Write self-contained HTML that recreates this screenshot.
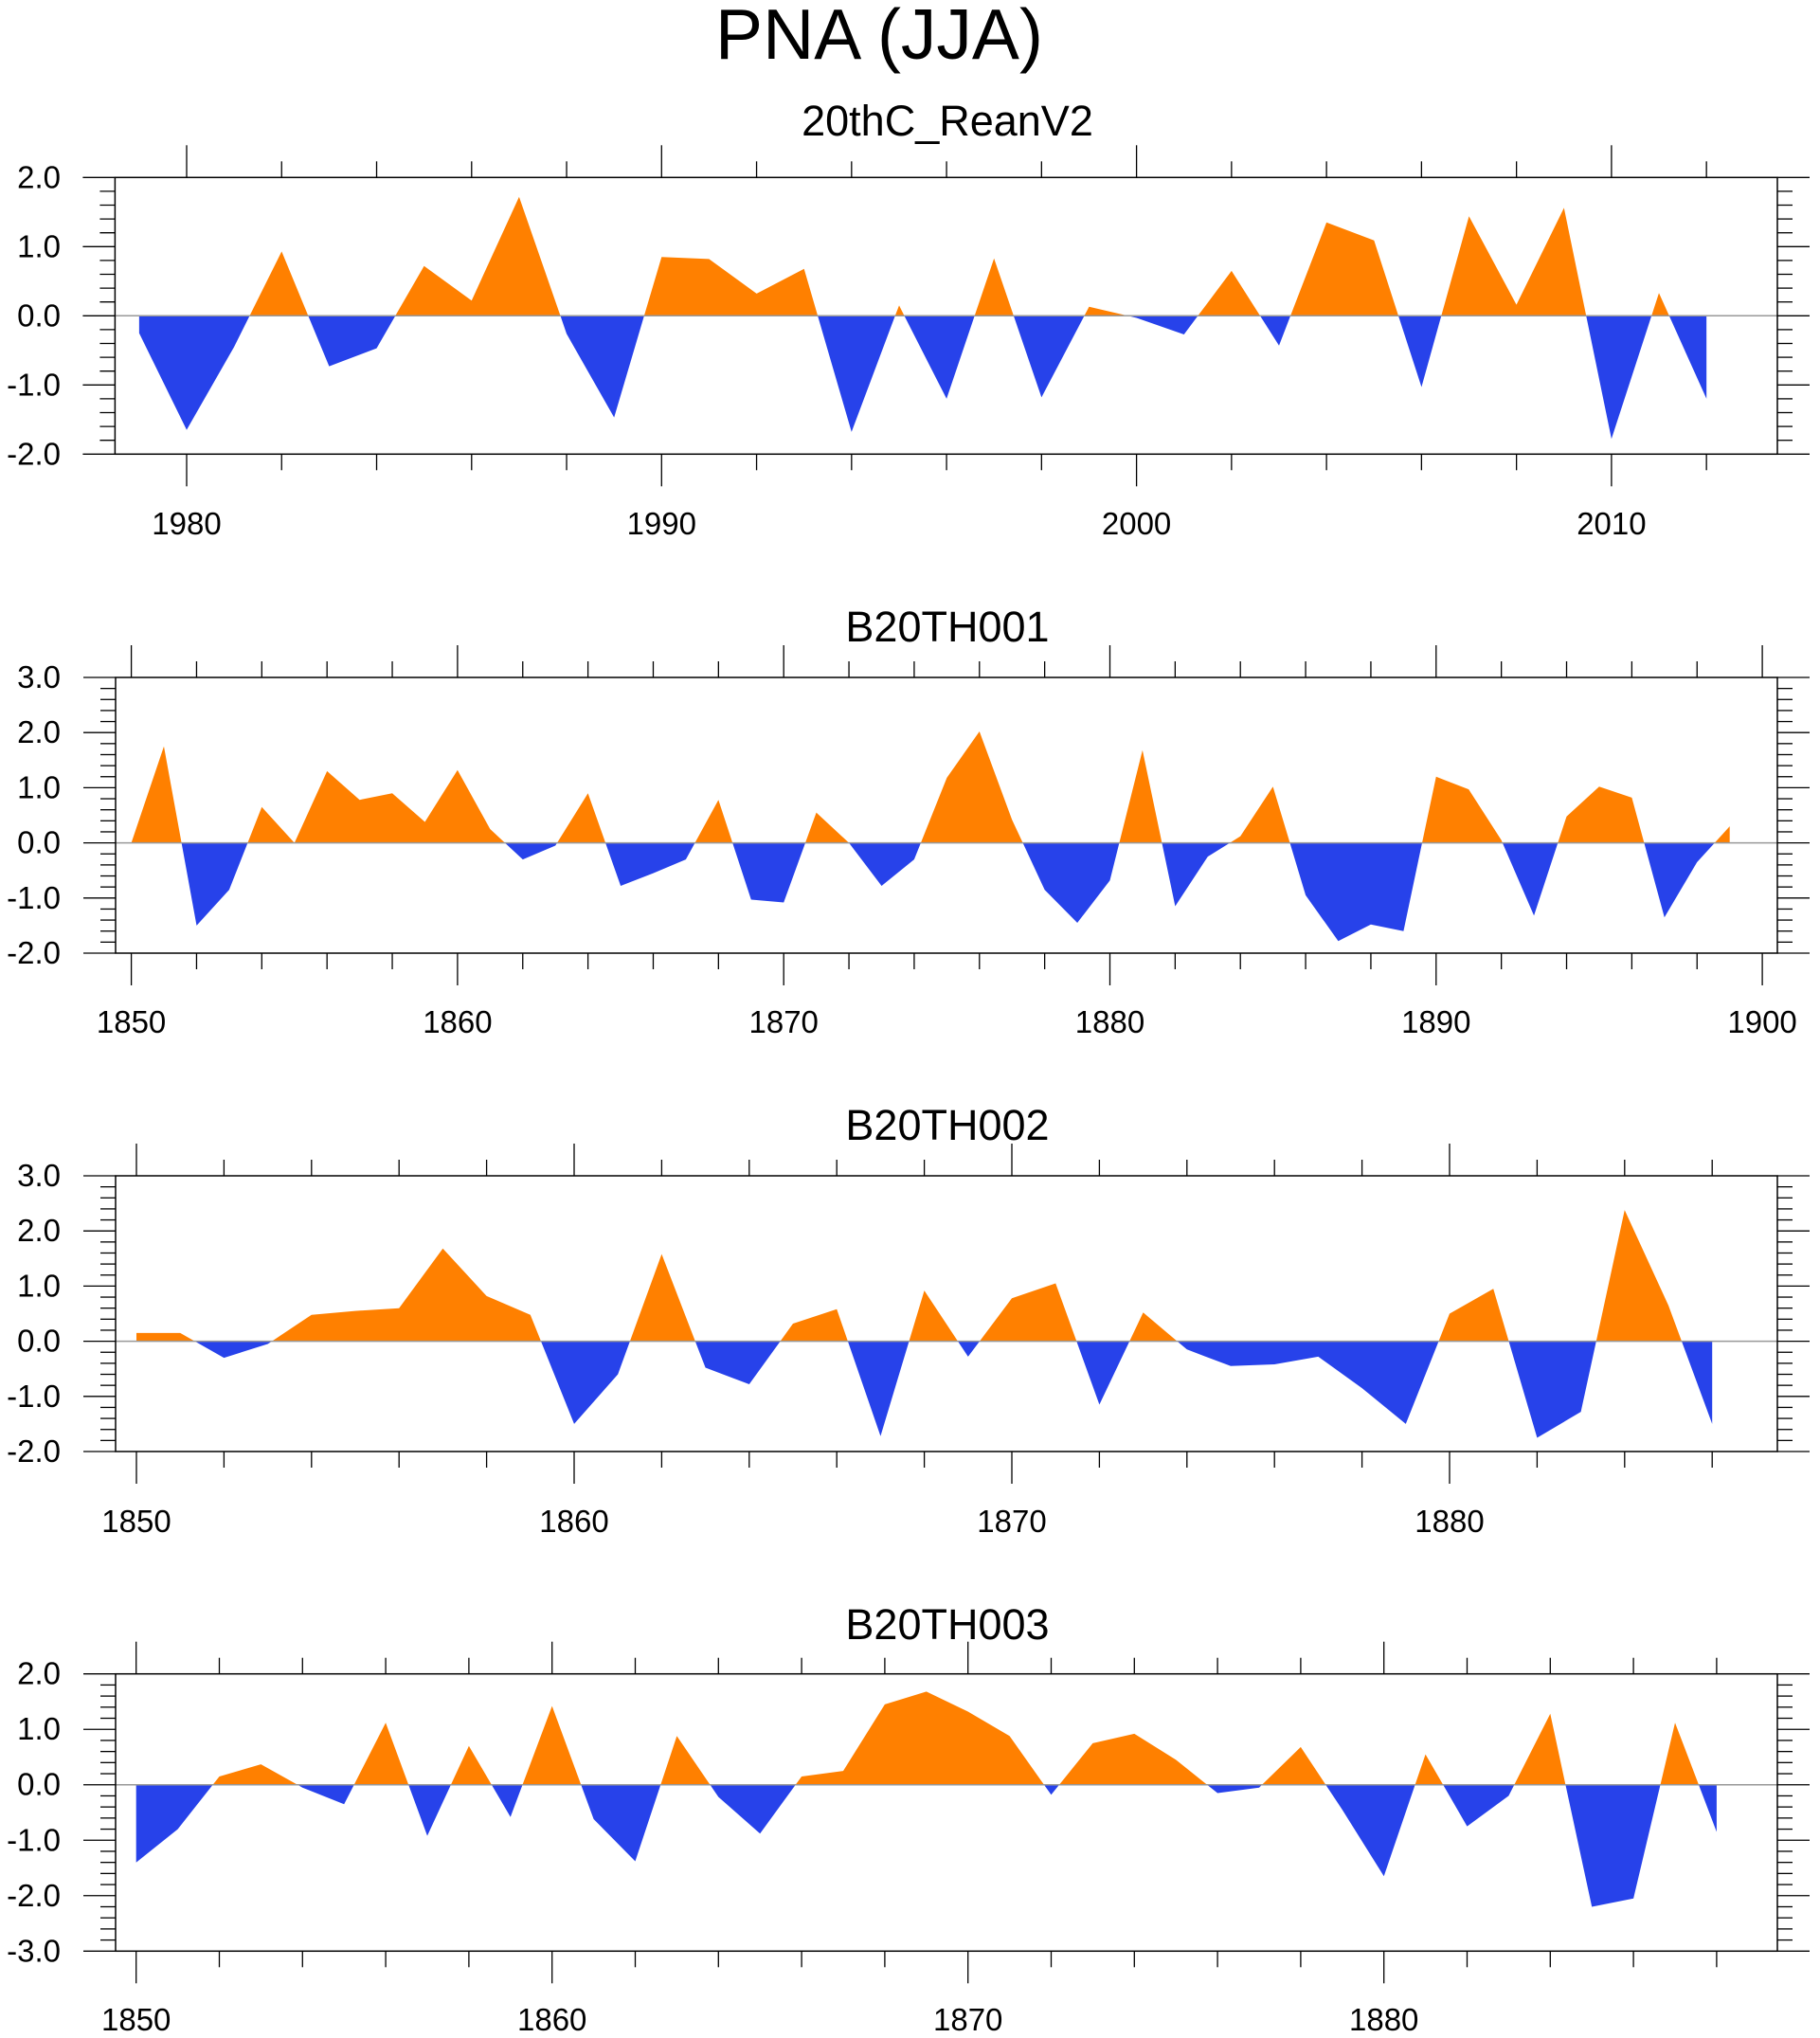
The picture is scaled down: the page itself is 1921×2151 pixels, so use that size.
<!DOCTYPE html>
<html><head><meta charset="utf-8"><style>
body{margin:0;background:#fff;}
svg{display:block;font-family:"Liberation Sans",Arial,sans-serif;}
</style></head><body>
<svg id="chart" width="1921" height="2151" viewBox="0 0 1921 2151" xmlns="http://www.w3.org/2000/svg">
<text x="928" y="62" font-size="75" text-anchor="middle">PNA (JJA)</text>
</svg>
<script>
const years1 = [1979,2012];
const values1 = [-0.25,-1.65,-0.45,0.93,-0.73,-0.47,0.72,0.22,1.72,-0.26,-1.47,0.85,0.82,0.32,0.68,-1.68,0.15,-1.2,0.83,-1.18,0.13,-0.03,-0.27,0.65,-0.43,1.35,1.09,-1.03,1.44,0.16,1.56,-1.78,0.33,-1.2];
const years2 = [1850,1899];
const values2 = [0.0,1.75,-1.5,-0.85,0.65,0.0,1.3,0.78,0.9,0.38,1.32,0.25,-0.3,-0.05,0.9,-0.78,-0.55,-0.3,0.78,-1.03,-1.08,0.55,0.0,-0.78,-0.3,1.18,2.02,0.42,-0.85,-1.45,-0.68,1.68,-1.15,-0.25,0.12,1.02,-0.95,-1.78,-1.48,-1.6,1.2,0.97,0.05,-1.32,0.48,1.02,0.82,-1.35,-0.35,0.3];
const years3 = [1850,1886];
const values3 = [0.15,0.15,-0.3,-0.05,0.48,0.55,0.6,1.68,0.82,0.48,-1.5,-0.6,1.58,-0.48,-0.78,0.32,0.58,-1.72,0.92,-0.28,0.78,1.05,-1.15,0.52,-0.15,-0.45,-0.42,-0.28,-0.85,-1.5,0.5,0.95,-1.75,-1.28,2.38,0.65,-1.5];
const years4 = [1850,1888];
const values4 = [-1.4,-0.8,0.15,0.37,-0.05,-0.35,1.12,-0.92,0.7,-0.58,1.42,-0.62,-1.38,0.88,-0.22,-0.88,0.15,0.25,1.45,1.68,1.32,0.88,-0.18,0.75,0.92,0.45,-0.15,-0.05,0.68,-0.45,-1.65,0.55,-0.75,-0.2,1.28,-2.2,-2.05,1.12,-0.85];
const titles = ["20thC_ReanV2","B20TH001","B20TH002","B20TH003"];
const yRanges = [[-2,2],[-2,3],[-2,3],[-3,2]];
const yTicks = [[-2,-1,0,1,2],[-2,-1,0,1,2,3],[-2,-1,0,1,2,3],[-3,-2,-1,0,1,2]];
const xMajor = [[1980,1990,2000,2010],[1850,1860,1870,1880,1890,1900],[1850,1860,1870,1880],[1850,1860,1870,1880]];

const svg = document.getElementById('chart');
const NS = 'http://www.w3.org/2000/svg';
function mk(tag, attrs, parent){const e=document.createElementNS(NS,tag);for(const k in attrs)e.setAttribute(k,attrs[k]);(parent||svg).appendChild(e);return e;}

const panels = [
 {top:187.3,bot:479.3,x0:197,y0:1980,ppy:50.13,left:121.4,right:1876,titleY:143,labY:564,years:years1,vals:values1},
 {top:715,bot:1006,x0:138.6,y0:1850,ppy:34.43,left:122,right:1876,titleY:677,labY:1090,years:years2,vals:values2},
 {top:1241,bot:1532,x0:144,y0:1850,ppy:46.2,left:122,right:1876,titleY:1203,labY:1617,years:years3,vals:values3},
 {top:1766.7,bot:2059.3,x0:143.7,y0:1850,ppy:43.9,left:122,right:1876,titleY:1730,labY:2143,years:years4,vals:values4}
];

panels.forEach((p,i)=>{
  const g = mk('g',{});
  
  
  const [ymin,ymax]=yRanges[i];
  const X = yr => p.x0 + (yr-p.y0)*p.ppy;
  const Y = v => p.bot - (v-ymin)/(ymax-ymin)*(p.bot-p.top);
  const t = mk('text',{x:1000,y:p.titleY,'font-size':45,'text-anchor':'middle'},g);
  t.textContent = titles[i];
  
  
  const vals=p.vals, y0=p.years[0];
  const pts=[];
  for(let k=0;k<vals.length;k++){
    const yr=y0+k, v=vals[k];
    if(k>0){const pv=vals[k-1];if((pv>0&&v<0)||(pv<0&&v>0)){const f=pv/(pv-v);pts.push([yr-1+f,0]);}}
    pts.push([yr,v]);
  }
  ['pos','neg'].forEach(sign=>{
    let d='M'+X(pts[0][0])+','+Y(0);
    pts.forEach(q=>{const v=sign==='pos'?Math.max(q[1],0):Math.min(q[1],0);d+=' L'+X(q[0]).toFixed(1)+','+Y(v).toFixed(1);});
    d+=' L'+X(pts[pts.length-1][0])+','+Y(0)+'Z';
    const a=mk('path',{d:d,fill:sign==='pos'?'#FF8000':'#2742EA'},g);
    
    
  });
  const zl=mk('line',{x1:p.left,x2:p.right,y1:Y(0),y2:Y(0),stroke:'#999','stroke-width':1.5},g);
  
  
  const fr=mk('rect',{x:p.left,y:p.top,width:p.right-p.left,height:p.bot-p.top,fill:'none',stroke:'#000','stroke-width':1.5},g);
  
  
  for(let v=ymin; v<=ymax+1e-6; v+=0.2){
    const vv=Math.round(v*10)/10, yy=Y(vv);
    const major=Math.abs(vv-Math.round(vv))<1e-6;
    const len=major?34:16;
    mk('line',{x1:p.left-len,x2:p.left,y1:yy,y2:yy,stroke:'#000','stroke-width':1.3},g);
    mk('line',{x1:p.right,x2:p.right+len,y1:yy,y2:yy,stroke:'#000','stroke-width':1.3},g);
  }
  yTicks[i].forEach(v=>{
    const l=mk('text',{x:64,y:Y(v)+11,'font-size':33,'text-anchor':'end'},g);
    l.textContent=v.toFixed(1);
    
    
  });
  const yrStart=Math.ceil((p.y0+(p.left-p.x0)/p.ppy)/2)*2;
  const yrEnd=p.y0+(p.right-p.x0)/p.ppy;
  for(let yr=yrStart; yr<=yrEnd; yr+=2){
    const xx=X(yr), major=yr%10===0, len=major?34:17;
    mk('line',{x1:xx,x2:xx,y1:p.top-len,y2:p.top,stroke:'#000','stroke-width':1.3},g);
    mk('line',{x1:xx,x2:xx,y1:p.bot,y2:p.bot+len,stroke:'#000','stroke-width':1.3},g);
  }
  xMajor[i].forEach(yr=>{
    const l=mk('text',{x:X(yr),y:p.labY,'font-size':33,'text-anchor':'middle'},g);
    l.textContent=yr;
    
    
  });
});
</script>
</body></html>
